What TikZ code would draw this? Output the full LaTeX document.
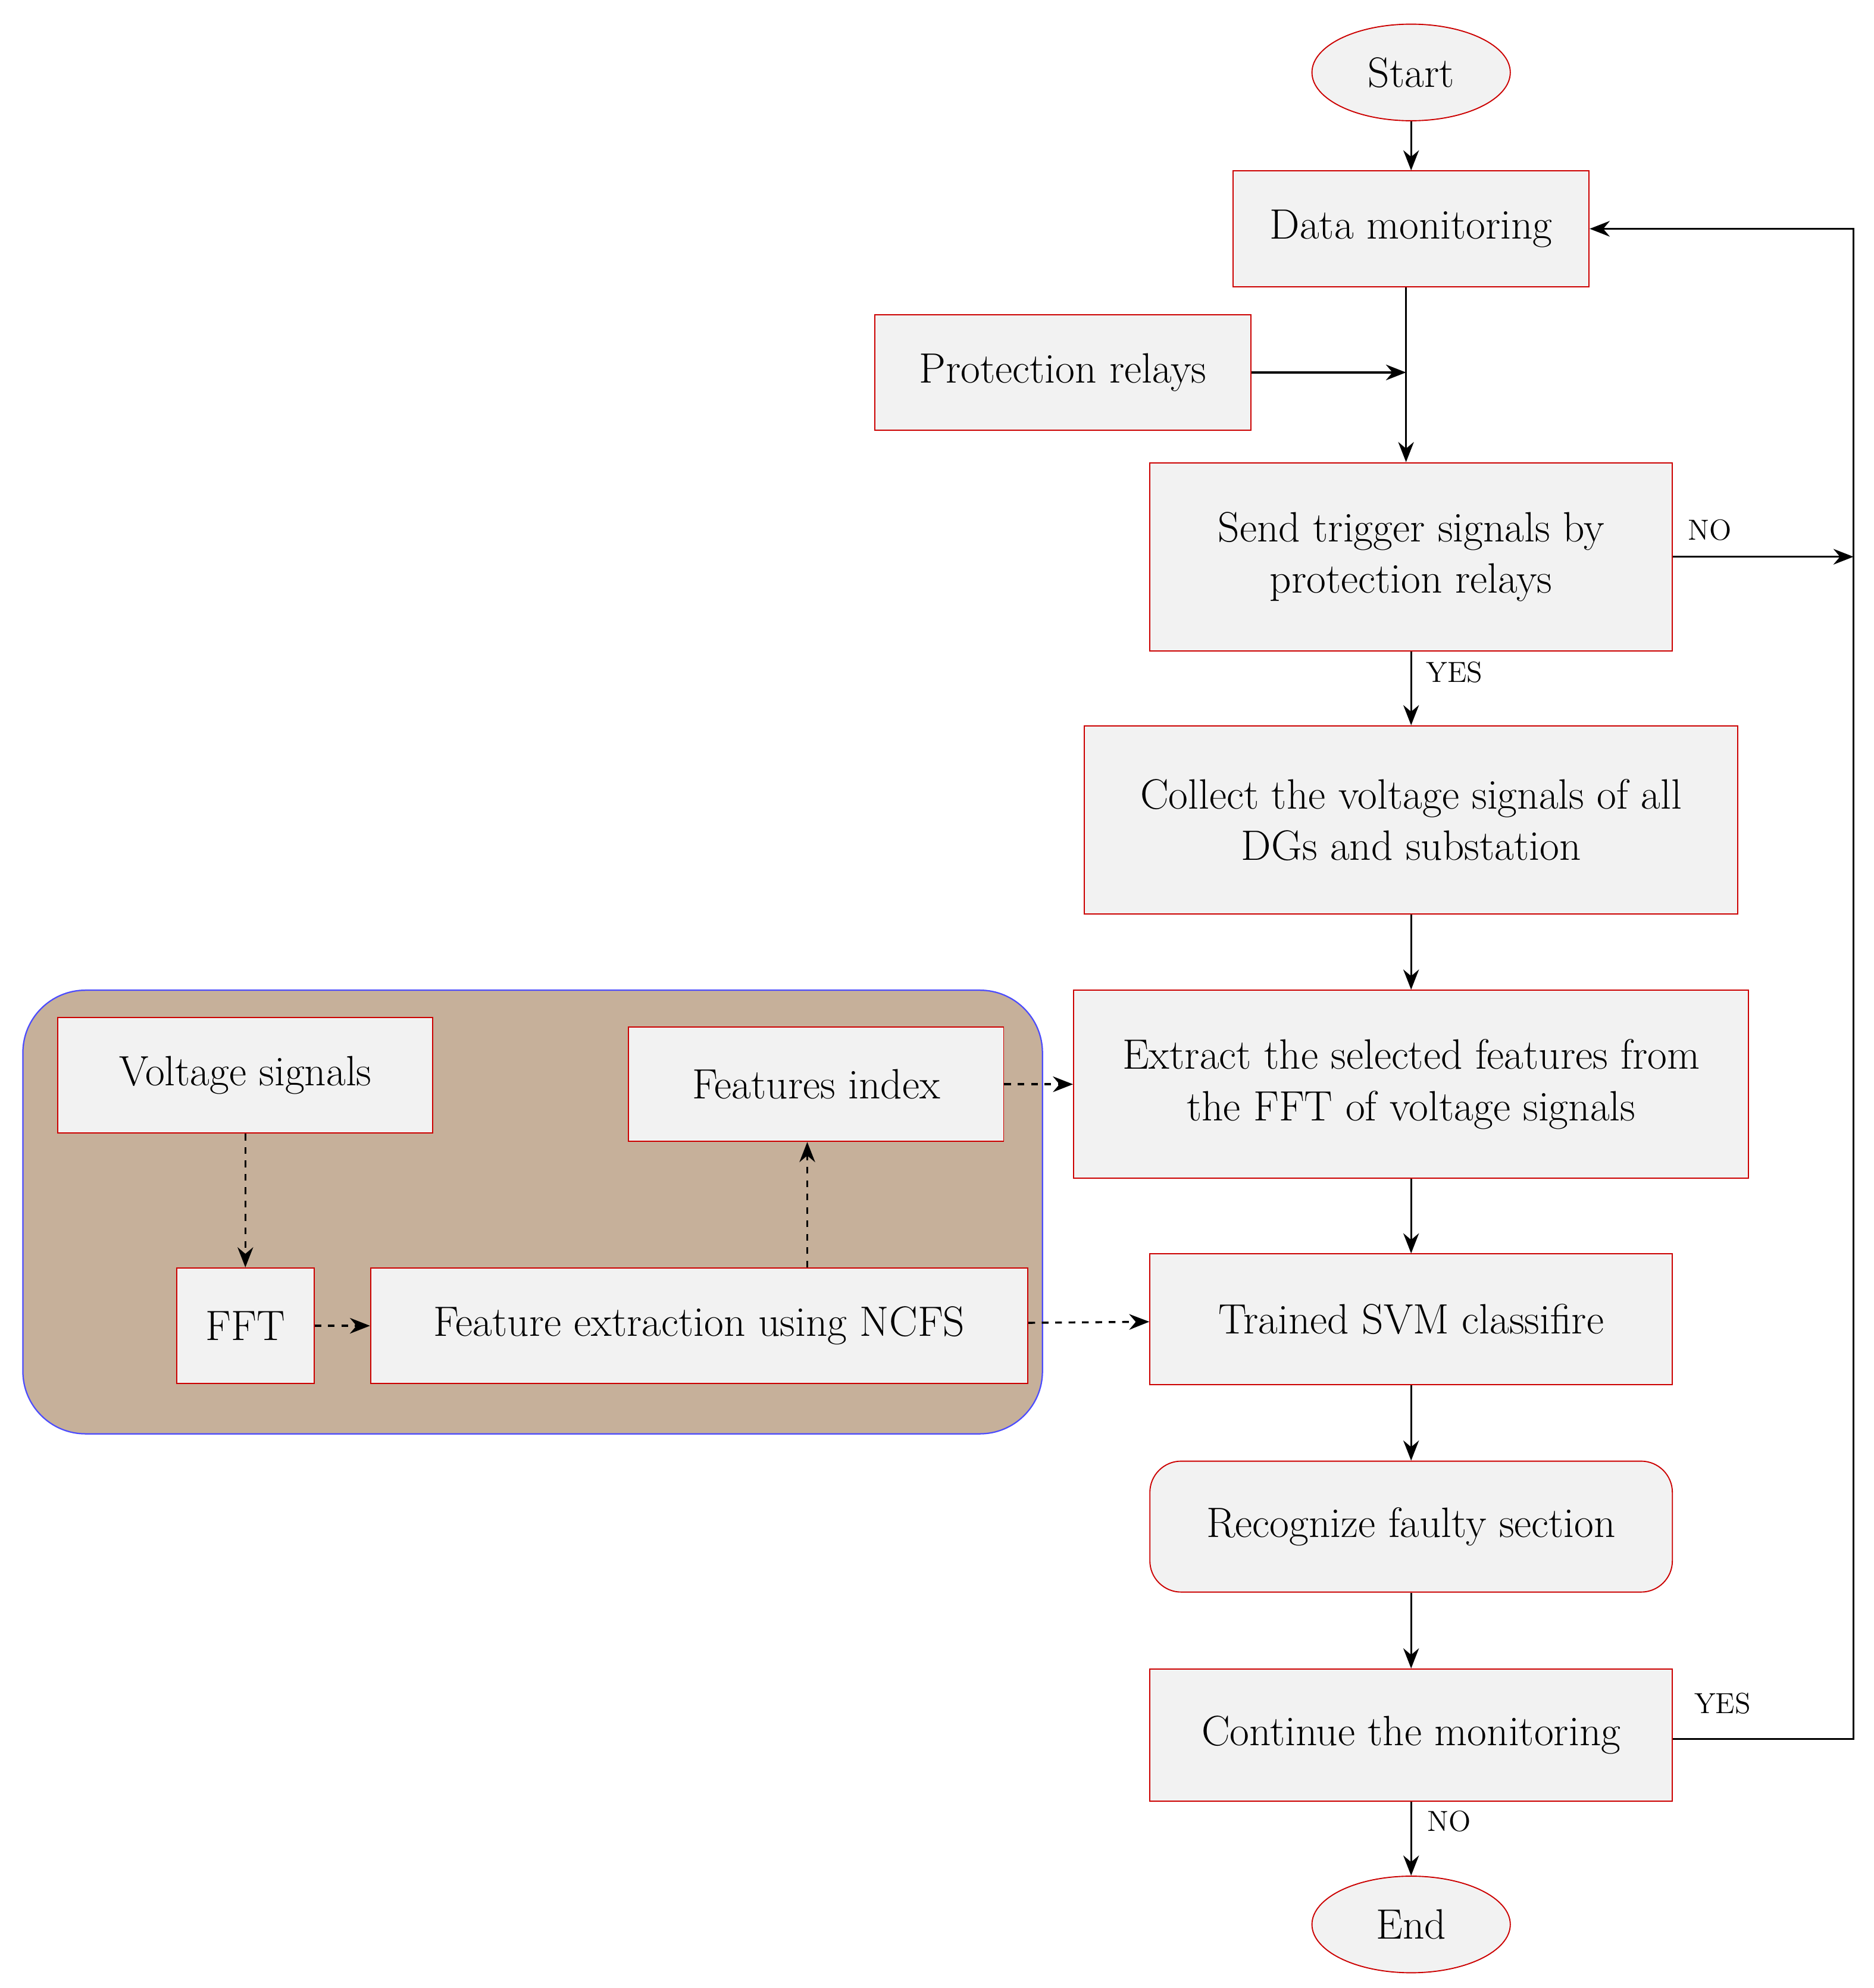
\documentclass[tikz,border=0pt]{standalone}
\usetikzlibrary{shapes.geometric,arrows.meta}
\definecolor{bx}{HTML}{F2F2F2}
\definecolor{br}{HTML}{C6B09A}
\begin{document}
\begin{tikzpicture}[x=0.02cm,y=-0.02cm,
 box/.style={draw=red!80!black,fill=bx,line width=0.5pt,inner sep=0pt,align=center,font=\fontsize{19}{23}\selectfont},
 ell/.style={ellipse,draw=red!80!black,fill=bx,line width=0.5pt,minimum width=156*0.02cm,minimum height=76*0.02cm,font=\fontsize{19}{23}\selectfont},
 arr/.style={-{Stealth[length=9pt,width=7pt]},line width=0.9pt},
 darr/.style={arr,dashed},
 lab/.style={font=\fontsize{13}{15}\selectfont}]
\useasboundingbox (0,0) rectangle (1474,1564);
\fill[white] (0,0) rectangle (1474,1564);
\node[ell] (start) at (1110,57) {Start};
\node[box,minimum width=280*0.02cm,minimum height=91*0.02cm] (dm) at (1110,180) {Data monitoring};
\node[box,minimum width=296*0.02cm,minimum height=91*0.02cm] (pr) at (836,293) {Protection relays};
\node[box,minimum width=411*0.02cm,minimum height=148*0.02cm] (st) at (1110,438) {Send trigger signals by\\protection relays};
\node[box,minimum width=514*0.02cm,minimum height=148*0.02cm] (co) at (1110,645) {Collect the voltage signals of all\\DGs and substation};
\node[box,minimum width=531*0.02cm,minimum height=148*0.02cm] (ex) at (1110,853) {Extract the selected features from\\the FFT of voltage signals};
\node[box,minimum width=411*0.02cm,minimum height=103*0.02cm] (svm) at (1110,1038) {Trained SVM classifire};
\node[box,rounded corners=14pt,minimum width=411*0.02cm,minimum height=103*0.02cm] (rec) at (1110,1201) {Recognize faulty section};
\node[box,minimum width=411*0.02cm,minimum height=104*0.02cm] (cont) at (1110,1365) {Continue the monitoring};
\node[ell] (end) at (1110,1514) {End};
\draw[blue!70,fill=br,line width=0.6pt,rounded corners=28pt] (18,779) rectangle (820,1128);
\node[box,minimum width=295*0.02cm,minimum height=91*0.02cm] (vs) at (193,846) {Voltage signals};
\node[box,minimum width=295*0.02cm,minimum height=90*0.02cm] (fi) at (642,853) {Features index};
\node[box,minimum width=108*0.02cm,minimum height=91*0.02cm] (fft) at (193,1043) {FFT};
\node[box,minimum width=517*0.02cm,minimum height=91*0.02cm] (fe) at (550,1043) {Feature extraction using NCFS};
\coordinate (j) at (1106,293);
\coordinate (rt) at (1458,438);
\coordinate (c1) at (1458,1368);
\coordinate (c2) at (1458,180);
\draw[arr] (start) -- (dm);
\draw[arr] (dm.south -| j) -- (st.north -| j);
\draw[arr] (pr) -- (j);
\draw[arr] (st.east) -- (rt);
\node[lab] at (1345,417) {NO};
\draw[arr] (st) -- (co) node[pos=0,lab,anchor=north west,xshift=3pt,yshift=-1pt] {YES};
\draw[arr] (co) -- (ex);
\draw[arr] (ex) -- (svm);
\draw[arr] (svm) -- (rec);
\draw[arr] (rec) -- (cont);
\draw[arr] (cont) -- (end);
\node[lab] at (1140,1433) {NO};
\draw[arr] (cont.east |- c1) -- (c1) -- (c2) -- (dm.east);
\node[lab] at (1355,1340) {YES};
\draw[darr] (vs) -- (fft);
\draw[darr] (fft) -- (fe);
\draw[darr] (fe.north -| 635,0) -- (fi.south -| 635,0);
\draw[darr] (fi) -- (ex);
\draw[darr] (fe) -- (svm);
\end{tikzpicture}
\end{document}
